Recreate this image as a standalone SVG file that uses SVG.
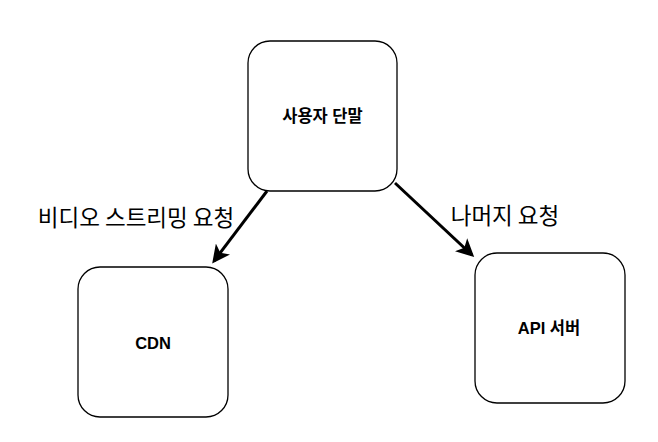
<svg xmlns="http://www.w3.org/2000/svg" width="658" height="442" viewBox="0 0 658 442">
<style>
.box{fill:#fff;stroke:#000;stroke-width:1.3}
.lbl{font-family:"Liberation Sans","Noto Sans CJK KR",sans-serif;font-size:16.5px;font-weight:bold;fill:#000;text-anchor:middle;dominant-baseline:central}
.edge{font-family:"Noto Sans CJK KR","Liberation Sans",sans-serif;font-size:22.5px;fill:#000;text-anchor:middle;dominant-baseline:central}
.conn{stroke:#000;stroke-width:3;fill:none;marker-end:url(#ah)}
</style>
<defs>
<marker id="ah" markerWidth="6" markerHeight="6" refX="5" refY="3" orient="auto" markerUnits="strokeWidth">
<path d="M0,0 L6,3 L0,6 L1.5,3 Z" fill="#000"/>
</marker>
</defs>
<rect width="658" height="442" fill="#fff"/>
<g id="connectors">
<line class="conn" x1="267" y1="191" x2="214" y2="261"/>
<line class="conn" x1="395" y1="183" x2="472" y2="255"/>
<text class="edge" x="136" y="216">비디오 스트리밍 요청</text>
<text class="edge" x="505" y="214">나머지 요청</text>
</g>
<g id="user">
<rect class="box" x="248" y="41" width="149" height="150" rx="22"/>
<text class="lbl" x="322.5" y="116">사용자 단말</text>
</g>
<g id="cdn">
<rect class="box" x="78" y="267" width="150" height="150" rx="22"/>
<text class="lbl" x="153" y="343">CDN</text>
</g>
<g id="api">
<rect class="box" x="475" y="253" width="150" height="150" rx="22"/>
<text class="lbl" x="549" y="328">API 서버</text>
</g>
</svg>
